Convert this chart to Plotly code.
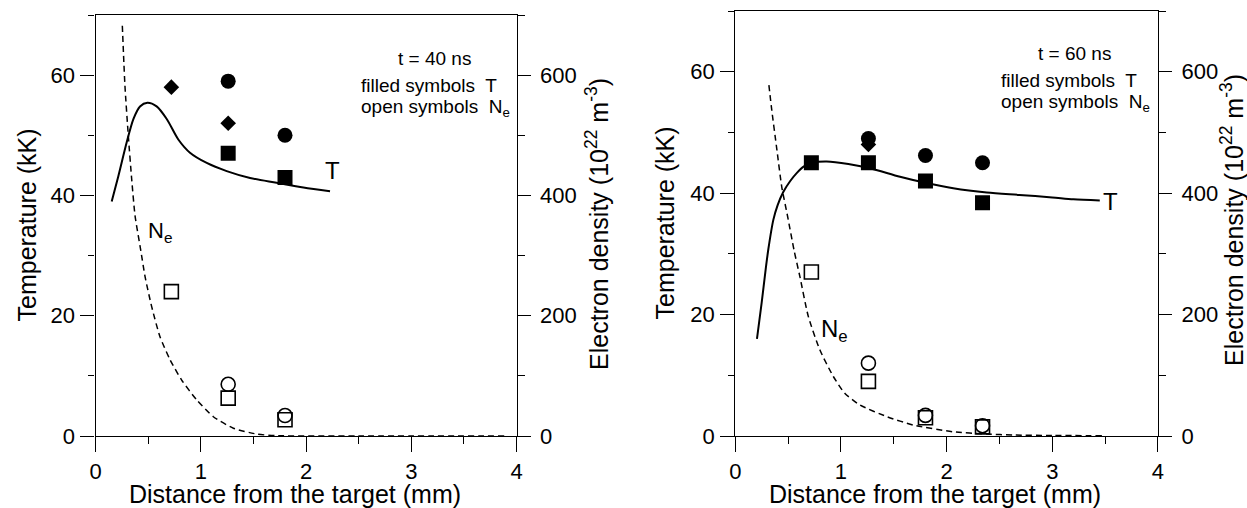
import plotly.graph_objects as go

W, H = 1247, 508
FONT = "Liberation Sans, Arial, sans-serif"

# ---------------- data: left panel (t = 40 ns) ----------------
t40_T_curve_x = [0.153, 0.216, 0.295, 0.359, 0.422, 0.492, 0.58, 0.676, 0.786, 0.897,
                 1.056, 1.246, 1.468, 1.72, 1.975, 2.228]
t40_T_curve_y = [39.0, 43.2, 48.8, 52.7, 54.8, 55.4, 54.8, 52.7, 49.3, 47.1,
                 45.4, 44.05, 42.9, 42.1, 41.3, 40.7]
t40_Ne_curve_x = [0.254, 0.279, 0.311, 0.343, 0.375, 0.428, 0.47, 0.533, 0.612, 0.707,
                  0.818, 0.961, 1.119, 1.309, 1.53, 1.72, 2.5, 3.9]
t40_Ne_curve_y = [682, 582, 499, 427, 366, 310, 265, 215, 165, 127,
                  93, 60, 32, 13, 3.3, 0.5, 0, 0]
t40_sq_x, t40_sq_T = [1.26, 1.80], [47, 43]
t40_ci_x, t40_ci_T = [1.26, 1.80], [59, 50]
t40_di_x, t40_di_T = [0.72, 1.26], [58, 52]
t40_osq_x, t40_osq_Ne = [0.72, 1.26, 1.80], [240, 63, 27]
t40_oci_x, t40_oci_Ne = [1.26, 1.80], [86, 34]

# ---------------- data: right panel (t = 60 ns) ----------------
t60_T_curve_x = [0.205, 0.25, 0.29, 0.313, 0.36, 0.40, 0.454, 0.52, 0.581, 0.65, 0.73,
                 0.865, 1.07, 1.275, 1.559, 1.80, 2.063, 2.38, 2.69, 3.0, 3.2, 3.45]
t60_T_curve_y = [16.0, 22.0, 27.8, 30.8, 35.6, 38.0, 40.2, 42.0, 43.3, 44.4, 45.0,
                 45.2, 44.8, 44.1, 42.7, 41.7, 40.8, 40.1, 39.7, 39.3, 39.0, 38.8]
t60_Ne_curve_x = [0.318, 0.345, 0.394, 0.44, 0.496, 0.556, 0.612, 0.691, 0.80, 0.928,
                  1.038, 1.18, 1.433, 1.685, 2.06, 2.38, 2.63, 3.0, 3.47]
t60_Ne_curve_y = [578, 537, 471, 410, 361, 306, 262, 197, 142, 98,
                  70, 51, 32, 18, 7, 3.3, 1.6, 0.8, 0.5]
t60_sq_x, t60_sq_T = [0.72, 1.26, 1.80, 2.34], [45, 45, 42, 38.4]
t60_ci_x, t60_ci_T = [1.26, 1.80, 2.34], [49, 46.2, 45]
t60_di_x, t60_di_T = [1.26], [48]
t60_osq_x, t60_osq_Ne = [0.72, 1.26, 1.80, 2.34], [270, 90, 30, 15]
t60_oci_x, t60_oci_Ne = [1.26, 1.80, 2.34], [120, 34, 17]

x_tickvals = [0, 1, 2, 3, 4]
T_tickvals = [0, 20, 40, 60]
Ne_tickvals = [0, 200, 400, 600]

fig = go.Figure()

def add_panel(xa, ya, ya2, Tcx, Tcy, Ncx, Ncy, sqx, sqy, dix, diy, cix, ciy,
              osqx, osqy, ocix, ociy):
    fig.add_trace(go.Scatter(x=Tcx, y=Tcy, mode="lines", xaxis=xa, yaxis=ya,
                             line=dict(color="black", width=2, shape="spline", smoothing=0.8),
                             showlegend=False))
    fig.add_trace(go.Scatter(x=Ncx, y=Ncy, mode="lines", xaxis=xa, yaxis=ya2,
                             line=dict(color="black", width=1.5, dash="6px,4px",
                                       shape="spline", smoothing=0.6),
                             showlegend=False))
    fig.add_trace(go.Scatter(x=osqx, y=osqy, mode="markers", xaxis=xa, yaxis=ya2,
                             marker=dict(symbol="square-open", size=14, color="black",
                                         line=dict(width=1.6, color="black")),
                             showlegend=False))
    fig.add_trace(go.Scatter(x=ocix, y=ociy, mode="markers", xaxis=xa, yaxis=ya2,
                             marker=dict(symbol="circle-open", size=14, color="black",
                                         line=dict(width=1.6, color="black")),
                             showlegend=False))
    fig.add_trace(go.Scatter(x=sqx, y=sqy, mode="markers", xaxis=xa, yaxis=ya,
                             marker=dict(symbol="square", size=15, color="black"),
                             showlegend=False))
    fig.add_trace(go.Scatter(x=dix, y=diy, mode="markers", xaxis=xa, yaxis=ya,
                             marker=dict(symbol="diamond", size=12, color="black"),
                             showlegend=False))
    fig.add_trace(go.Scatter(x=cix, y=ciy, mode="markers", xaxis=xa, yaxis=ya,
                             marker=dict(symbol="circle", size=15, color="black"),
                             showlegend=False))

add_panel("x", "y", "y2", t40_T_curve_x, t40_T_curve_y, t40_Ne_curve_x, t40_Ne_curve_y,
          t40_sq_x, t40_sq_T, t40_di_x, t40_di_T, t40_ci_x, t40_ci_T,
          t40_osq_x, t40_osq_Ne, t40_oci_x, t40_oci_Ne)
add_panel("x2", "y3", "y4", t60_T_curve_x, t60_T_curve_y, t60_Ne_curve_x, t60_Ne_curve_y,
          t60_sq_x, t60_sq_T, t60_di_x, t60_di_T, t60_ci_x, t60_ci_T,
          t60_osq_x, t60_osq_Ne, t60_oci_x, t60_oci_Ne)

tickfont = dict(family=FONT, size=22, color="black")
LW = 1.3

def px(X):
    return X / W

def py(Y):
    return 1 - Y / H

def xax(domain, anchor):
    return dict(domain=domain, anchor=anchor, range=[0, 4], tickvals=x_tickvals,
                automargin=False,
                showline=True, linecolor="black", linewidth=LW, mirror=True,
                ticks="outside", ticklen=15, tickwidth=LW, tickcolor="black",
                minor=dict(dtick=0.5, tick0=0, ticks="outside", ticklen=7,
                           tickwidth=LW, tickcolor="black"),
                showgrid=False, zeroline=False, tickfont=tickfont, ticklabelstandoff=0)

def yax(domain, anchor):
    return dict(domain=domain, anchor=anchor, range=[0, 70], tickvals=T_tickvals,
                automargin=False,
                showline=True, linecolor="black", linewidth=LW,
                ticks="outside", ticklen=14, tickwidth=LW, tickcolor="black",
                minor=dict(dtick=10, tick0=0, ticks="outside", ticklen=6,
                           tickwidth=LW, tickcolor="black"),
                showgrid=False, zeroline=False, tickfont=tickfont, ticklabelstandoff=1)

def y2ax(overlay, anchor):
    return dict(overlaying=overlay, anchor=anchor, side="right", range=[0, 700],
                tickvals=Ne_tickvals, automargin=False,
                showline=True, linecolor="black", linewidth=LW,
                ticks="outside", ticklen=13, tickwidth=LW, tickcolor="black",
                minor=dict(dtick=100, tick0=0, ticks="outside", ticklen=7,
                           tickwidth=LW, tickcolor="black"),
                showgrid=False, zeroline=False, tickfont=tickfont, ticklabelstandoff=5)

fig.update_layout(
    width=W, height=H, margin=dict(l=0, r=0, t=0, b=0, autoexpand=False),
    paper_bgcolor="white", plot_bgcolor="white",
    font=dict(family=FONT, color="black"),
    xaxis=xax([px(95.6), px(516.5)], "y"),
    yaxis=yax([py(436), py(15)], "x"),
    yaxis2=y2ax("y", "x"),
    xaxis2=xax([px(735.3), px(1157.9)], "y3"),
    yaxis3=yax([py(436), py(11)], "x2"),
    yaxis4=y2ax("y3", "x2"),
)

ann = []
def paper_text(text, X, Y, size=25, angle=0):
    ann.append(dict(text=text, x=px(X), y=py(Y), xref="paper", yref="paper",
                    showarrow=False, textangle=angle, xanchor="center", yanchor="middle",
                    font=dict(family=FONT, size=size, color="black")))

def data_text(text, x, y, xref, yref, size=19, xanchor="center"):
    ann.append(dict(text=text, x=x, y=y, xref=xref, yref=yref, showarrow=False,
                    xanchor=xanchor, yanchor="middle",
                    font=dict(family=FONT, size=size, color="black")))

ylab = "Temperature (kK)"
y2lab = "Electron density (10<sup>22</sup> m<sup>-3</sup>)"
xlab = "Distance from the target (mm)"

paper_text(ylab, 26, 225.5, angle=-90)
paper_text(y2lab, 597, 224, angle=-90)
paper_text(xlab, 294.5, 494)
paper_text(ylab, 664.5, 223, angle=-90)
paper_text(y2lab, 1232, 220, angle=-90)
paper_text(xlab, 934.5, 494)

data_text("t = 40 ns", 3.22, 62.8, "x", "y")
data_text("filled symbols\u00a0 T", 2.50, 58.3, "x", "y", xanchor="left")
data_text("open symbols\u00a0 N<sub>e</sub>", 2.50, 54.6, "x", "y", xanchor="left")
data_text("T", 2.25, 44.2, "x", "y", size=24)
data_text("N<sub>e</sub>", 0.48, 34.0, "x", "y", size=22, xanchor="left")

data_text("t = 60 ns", 3.21, 63.0, "x2", "y3")
data_text("filled symbols\u00a0 T", 2.50, 58.6, "x2", "y3", xanchor="left")
data_text("open symbols\u00a0 N<sub>e</sub>", 2.50, 54.9, "x2", "y3", xanchor="left")
data_text("T", 3.55, 38.6, "x2", "y3", size=24)
data_text("N<sub>e</sub>", 0.79, 17.3, "x2", "y3", size=24, xanchor="left")

fig.update_layout(annotations=ann)
fig.write_html(
    "out.html",
    config={"displayModeBar": False},
    post_script="document.body.style.margin='0px';document.body.style.overflow='hidden';",
)
